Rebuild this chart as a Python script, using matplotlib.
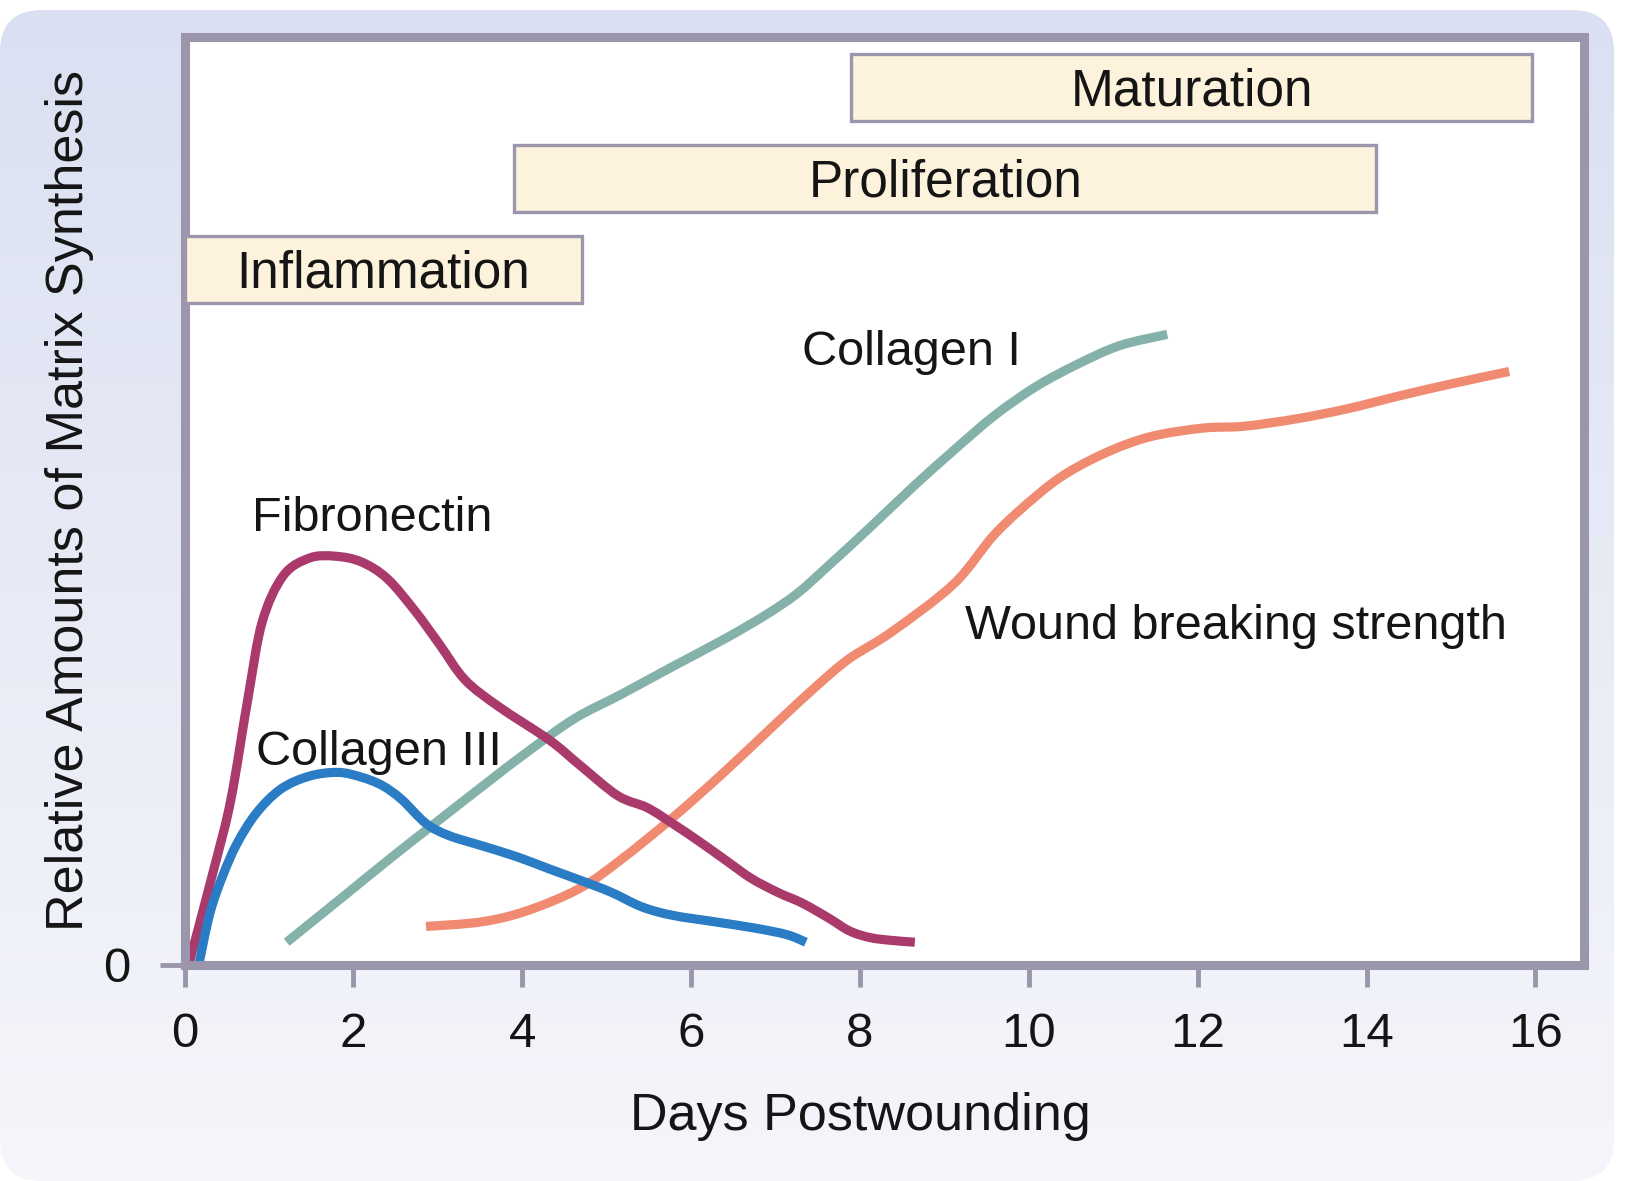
import numpy as np
import matplotlib
matplotlib.use("Agg")
import matplotlib.pyplot as plt
from matplotlib.patches import Rectangle, FancyBboxPatch, PathPatch
from matplotlib.path import Path
from matplotlib.colors import LinearSegmentedColormap

plt.rcParams['font.family'] = ['Liberation Sans', 'DejaVu Sans']

# ---------------- data ----------------
fibronectin_day = [0.05, 0.36, 0.55, 0.75, 0.92, 1.17, 1.48, 1.78, 2.09, 2.40, 2.73, 3.02,
                   3.32, 3.72, 4.32, 4.68, 5.13, 5.48, 5.78, 6.09, 6.40, 6.71, 7.02, 7.32,
                   7.63, 7.88, 8.12, 8.37, 8.65]
fibronectin_val = [0.0, 10.7, 17.8, 28.6, 36.9, 41.9, 43.8, 44.0, 43.4, 41.6, 38.1, 34.5,
                   30.7, 27.8, 24.2, 21.5, 18.2, 16.9, 15.2, 13.3, 11.3, 9.3, 7.8, 6.6,
                   5.0, 3.6, 2.9, 2.6, 2.4]

collagen3_day = [0.17, 0.30, 0.45, 0.62, 0.85, 1.14, 1.48, 1.82, 2.09, 2.34, 2.57, 2.86,
                 3.13, 3.52, 3.94, 4.32, 4.68, 5.05, 5.42, 5.78, 6.28, 6.77, 7.14, 7.36]
collagen3_val = [0.0, 5.5, 9.5, 13.0, 16.3, 18.9, 20.3, 20.7, 20.2, 19.3, 17.8, 15.2,
                 13.9, 12.8, 11.6, 10.3, 9.1, 7.8, 6.2, 5.3, 4.6, 3.9, 3.2, 2.4]

collagen1_day = [1.21, 1.85, 2.46, 2.95, 3.57, 4.06, 4.62, 5.17, 5.78, 6.40, 6.89, 7.26,
                 7.63, 8.12, 8.62, 9.11, 9.60, 10.09, 10.58, 11.08, 11.64]
collagen1_val = [2.4, 7.1, 11.6, 15.1, 19.5, 22.9, 26.5, 29.1, 32.1, 35.1, 37.7, 40.0,
                 43.0, 47.1, 51.4, 55.4, 59.2, 62.3, 64.7, 66.7, 67.9]

strength_day = [2.86, 3.52, 4.06, 4.68, 5.17, 5.78, 6.40, 7.02, 7.51, 7.88, 8.37, 9.11,
                9.60, 10.09, 10.46, 10.95, 11.45, 12.06, 12.55, 13.17, 13.78, 14.40,
                15.02, 15.69]
strength_val = [4.1, 4.6, 5.8, 8.2, 11.3, 15.8, 20.8, 26.1, 30.2, 33.0, 35.8, 41.0,
                46.4, 50.5, 53.0, 55.3, 56.9, 57.8, 58.0, 58.8, 59.9, 61.3, 62.6, 63.9]

phase_names = ["Inflammation", "Proliferation", "Maturation"]
phase_start = [0.0, 3.906, 7.90]
phase_end = [4.71, 14.117, 15.96]

x_ticks = [0, 2, 4, 6, 8, 10, 12, 14, 16]
y_ticks = [0]


def smooth_path(xs, ys):
    """Bezier path passing through the given points (Catmull-Rom tangents)."""
    p = np.column_stack([xs, ys]).astype(float)
    n = len(p)
    verts = [p[0]]
    codes = [Path.MOVETO]
    for i in range(n - 1):
        p0 = p[i - 1] if i > 0 else p[i]
        p1 = p[i]
        p2 = p[i + 1]
        p3 = p[i + 2] if i + 2 < n else p[i + 1]
        c1 = p1 + (p2 - p0) / 6.0
        c2 = p2 - (p3 - p1) / 6.0
        verts += [c1, c2, p2]
        codes += [Path.CURVE4] * 3
    return Path(np.array(verts), codes)


# ---------------- figure ----------------
W, H = 1625, 1181
fig = plt.figure(figsize=(W / 100, H / 100), dpi=100, facecolor='white')

# background rounded gradient panel
bg = fig.add_axes([0, 0, 1, 1], zorder=-10)
bg.set_xlim(0, W)
bg.set_ylim(H, 0)
bg.axis('off')
cmap = LinearSegmentedColormap.from_list('bg', ['#dae0f2', '#e8ebf6', '#f5f6fb'])
grad = np.linspace(0, 1, 256).reshape(-1, 1)
im = bg.imshow(grad, cmap=cmap, extent=(0, W, H, 0), aspect='auto', interpolation='bicubic')
panel = FancyBboxPatch((0, 10), 1614, 1171, boxstyle="round,pad=0,rounding_size=42",
                       transform=bg.transData, facecolor='none', edgecolor='none')
bg.add_patch(panel)
im.set_clip_path(panel)

frame_col = '#9b96ab'
ax = fig.add_axes([184.5 / W, (H - 964.5) / H, 1399 / W, 928 / H])
ax.set_facecolor('white')
ax.set_xlim(0, 16.57)
ax.set_ylim(0, 100)
for sp in ax.spines.values():
    sp.set_color(frame_col)
    sp.set_linewidth(6.5)
    sp.set_capstyle('projecting')

ax.set_xticks(x_ticks)
ax.set_xticklabels([str(t) for t in x_ticks])
ax.set_yticks(y_ticks)
ax.set_yticklabels(["0"])
ax.tick_params(axis='x', direction='out', length=16, width=3.5, color=frame_col,
               labelsize=35.5, pad=18, labelcolor='#151515')
ax.tick_params(axis='y', direction='out', length=18, width=3.5, color=frame_col,
               labelsize=35.5, pad=21, labelcolor='#151515')

ax.set_xlabel("Days Postwounding", fontsize=37.5, color='#151515')
ax.xaxis.set_label_coords(0.483, -0.164)
ax.xaxis.label.set_va('center')
ax.set_ylabel("Relative Amounts of Matrix Synthesis", fontsize=37.5, color='#151515')
ax.yaxis.set_label_coords(-0.0825, 0.5005)
ax.yaxis.label.set_va('center')

# phase boxes
row_bottom = [71.3, 81.1, 90.9]
row_height = 7.2
for name, s, e, yb in zip(phase_names, phase_start, phase_end, row_bottom):
    ax.add_patch(Rectangle((s, yb), e - s, row_height, facecolor='#fdf2dc',
                           edgecolor=frame_col, linewidth=2.4, zorder=3, clip_on=False))
    ax.text((s + e) / 2, yb + row_height / 2 - 1.95, name, ha='center', va='baseline',
            fontsize=37, color='#151515', zorder=4)

lw = 6.6
series = [
    (collagen1_day, collagen1_val, '#84b1a9'),
    (strength_day, strength_val, '#f08b72'),
    (fibronectin_day, fibronectin_val, '#a93a6b'),
    (collagen3_day, collagen3_val, '#2a7dc5'),
]
for xd, yd, c in series:
    ax.add_patch(PathPatch(smooth_path(xd, yd), facecolor='none', edgecolor=c,
                           linewidth=lw, capstyle='butt', joinstyle='round', zorder=2))

labels = [("Fibronectin", 2.22, 46.76), ("Collagen III", 2.30, 21.5),
          ("Collagen I", 8.61, 64.6), ("Wound breaking strength", 12.45, 35.1)]
for t, x, y in labels:
    ax.text(x, y, t, ha='center', va='baseline', fontsize=35, color='#151515', zorder=5)

fig.savefig("out.png", dpi=100, facecolor='white')
